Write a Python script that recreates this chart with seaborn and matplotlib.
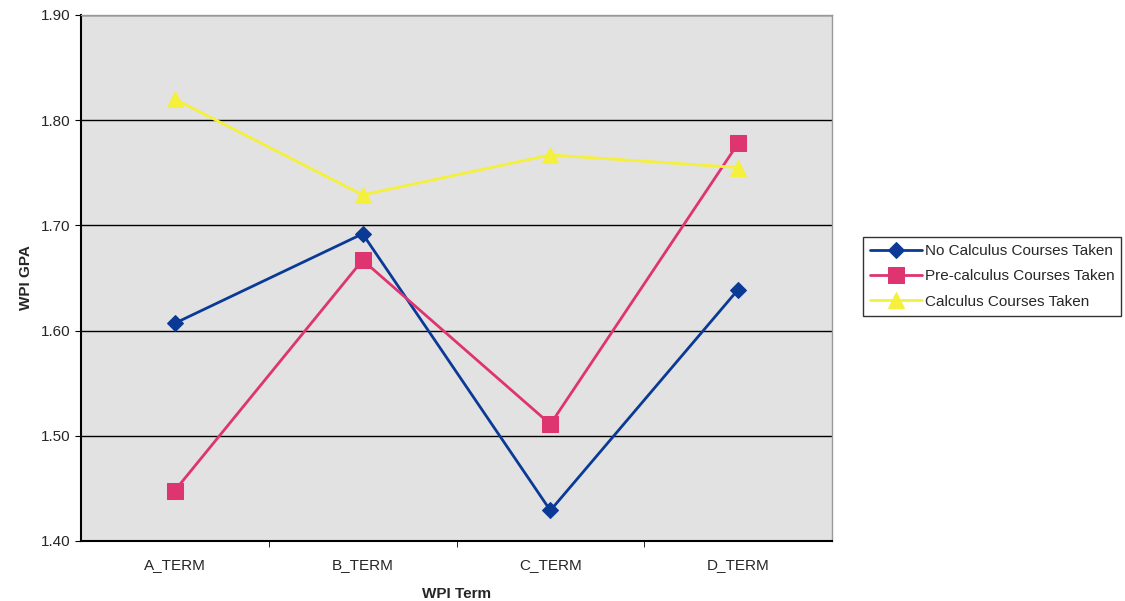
import matplotlib
matplotlib.use("Agg")
import matplotlib.pyplot as plt
import seaborn as sns
import pandas as pd
from matplotlib.ticker import FixedLocator

terms = ["A_TERM", "B_TERM", "C_TERM", "D_TERM"]
no_calc = [1.607, 1.692, 1.429, 1.639]
pre_calc = [1.448, 1.667, 1.511, 1.778]
calc = [1.820, 1.729, 1.767, 1.755]
series_names = ["No Calculus Courses Taken", "Pre-calculus Courses Taken", "Calculus Courses Taken"]
yticks = [1.40, 1.50, 1.60, 1.70, 1.80, 1.90]

sns.set_style("white")
plt.rcParams['font.family'] = ['Liberation Sans', 'DejaVu Sans']

fig = plt.figure(figsize=(11.25, 6.01), dpi=100)
ax = fig.add_axes([81/1125, 60/601, 751/1125, 526/601])
ax.set_facecolor("#e2e2e2")

colors = ["#0a3a96", "#de3470", "#f4f03c"]
markers = ["D", "s", "^"]
msizes = [8, 11, 11]
for name, vals, c, m, ms in zip(series_names, [no_calc, pre_calc, calc], colors, markers, msizes):
    df = pd.DataFrame({"term": terms, "gpa": vals})
    sns.lineplot(data=df, x="term", y="gpa", ax=ax, color=c, marker=m, markersize=ms,
                 markeredgecolor=c, linewidth=2, label=name, sort=False)

ax.set_xlim(-0.5, 3.5)
ax.set_ylim(1.40, 1.90)
ax.set_yticks(yticks)
ax.set_yticklabels([f"{v:.2f}" for v in yticks], fontsize=11)
ax.yaxis.grid(True, color="black", linewidth=1)
ax.set_axisbelow(True)
ax.tick_params(axis="y", length=4, color="black", direction="out", left=True)
ax.set_xticks(range(4))
ax.set_xticklabels(terms, fontsize=11)
ax.tick_params(axis="x", length=0, pad=12)
ax.xaxis.set_minor_locator(FixedLocator([0.5, 1.5, 2.5]))
ax.tick_params(axis="x", which="minor", length=4, color="black", direction="out", bottom=True)

for s in ["left", "bottom"]:
    ax.spines[s].set_color("black")
    ax.spines[s].set_linewidth(1.5)
for s in ["top", "right"]:
    ax.spines[s].set_color("#9a9a9a")
    ax.spines[s].set_linewidth(1)

ax.set_xlabel("WPI Term", fontsize=11, fontweight="bold", labelpad=11)
ax.set_ylabel("WPI GPA", fontsize=11, fontweight="bold", labelpad=6)

leg = ax.legend(loc="upper left", bbox_to_anchor=(863/1125, 1 - 237/601), bbox_transform=fig.transFigure,
                borderaxespad=0, frameon=True, fancybox=False, fontsize=11, borderpad=0.45,
                labelspacing=0.75, handlelength=3.4, handletextpad=0.2)
leg.get_frame().set_edgecolor("black")
leg.get_frame().set_linewidth(1)

fig.savefig("out.png", dpi=100, facecolor="white")
